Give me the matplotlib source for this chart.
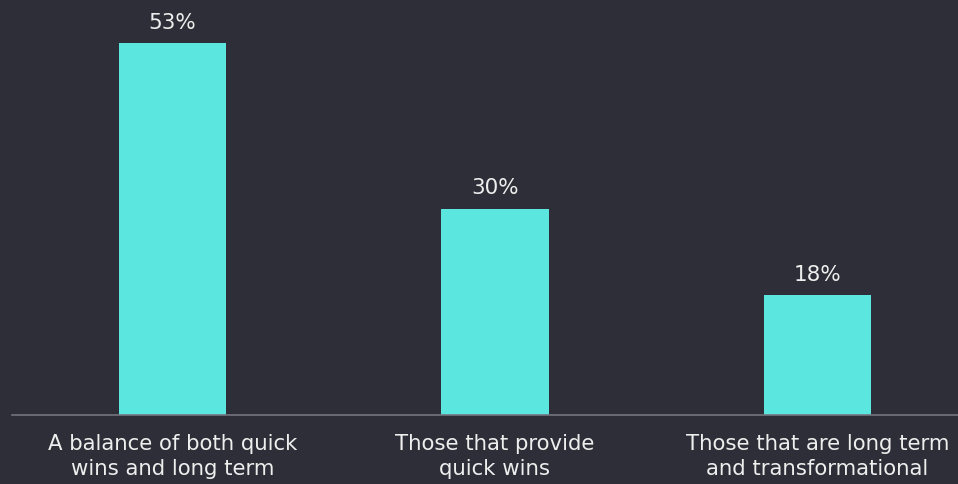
import matplotlib.pyplot as plt
import numpy as np

categories = ["A balance of both quick\nwins and long term",
              "Those that provide\nquick wins",
              "Those that are long term\nand transformational"]
values = [53, 30, 18]
value_labels = ["53%", "30%", "18%"]

bg = "#2e2e38"
bar_col = "#5ce6e0"
txt_col = "#eeeeee"

plt.rcParams['font.family'] = ['DejaVu Sans']

fig = plt.figure(figsize=(9.58, 4.85), dpi=100, facecolor=bg)
ax = fig.add_axes([12 / 958, 69 / 485, 946 / 958, 414 / 485])
ax.set_facecolor(bg)

x = np.arange(len(values))
bars = ax.bar(x, values, width=0.332, color=bar_col, zorder=2)

for xi, v, lab in zip(x, values, value_labels):
    ax.annotate(lab, (xi, v), xytext=(0, 8), textcoords="offset points",
                ha="center", va="bottom", color=txt_col, fontsize=15.5)

ax.set_xlim(-0.4977, 2.4357)
# value axis of the source does not start exactly at zero
ax.set_ylim(1.33, 58.83)
ax.set_xticks(x)
ax.set_xticklabels(categories, color=txt_col, fontsize=15.3, linespacing=1.3)
ax.tick_params(axis="x", length=0, pad=13)
ax.set_yticks([])
for s in ["top", "left", "right"]:
    ax.spines[s].set_visible(False)
ax.spines["bottom"].set_color("#74747f")
ax.spines["bottom"].set_linewidth(1.2)
ax.spines["bottom"].set_zorder(3)

fig.savefig("out.png", dpi=100, facecolor=bg)
